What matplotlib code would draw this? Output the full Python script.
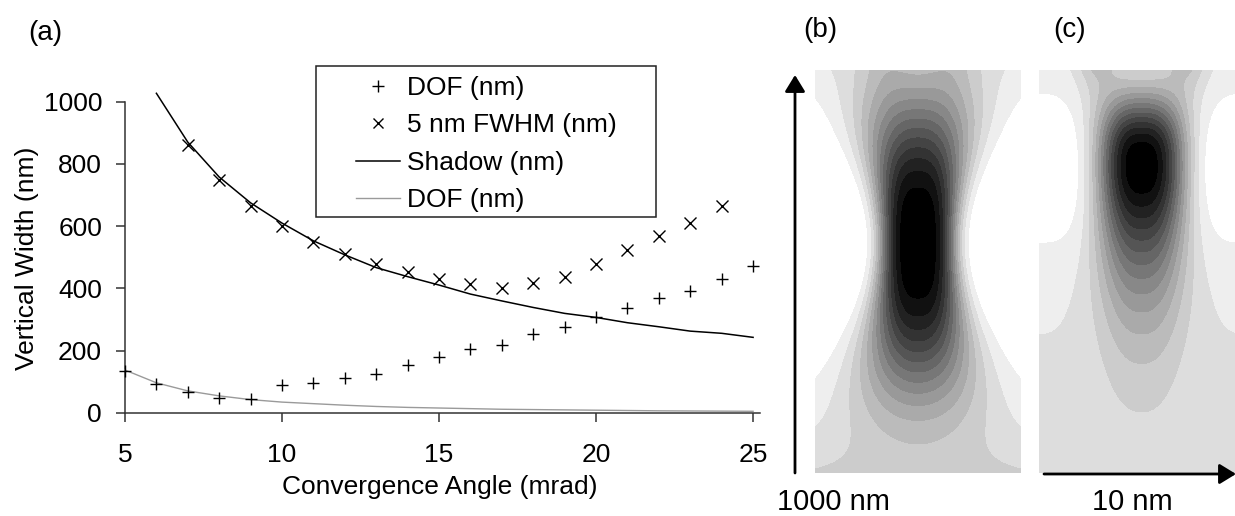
import numpy as np
import matplotlib
matplotlib.use("Agg")
import matplotlib.pyplot as plt
from matplotlib.patches import FancyArrowPatch, Rectangle

plt.rcParams['font.family'] = ['Liberation Sans', 'DejaVu Sans']
plt.rcParams['font.size'] = 19

# ---------------- data ----------------
dof_angles = [5, 6, 7, 8, 9, 10, 11, 12, 13, 14, 15, 16, 17, 18, 19, 20, 21, 22, 23, 24, 25]
dof_points = [135, 93, 68, 47, 44, 90, 97, 111, 125, 154, 181, 204, 218, 253, 277, 307, 338, 368, 392, 430, 472]

fwhm_angles = [7, 8, 9, 10, 11, 12, 13, 14, 15, 16, 17, 18, 19, 20, 21, 22, 23, 24]
fwhm_points = [860, 748, 665, 600, 549, 510, 480, 454, 429, 414, 402, 416, 438, 480, 525, 569, 611, 665]

shadow_angles = [6, 7, 8, 9, 10, 11, 12, 13, 14, 15, 16, 17, 18, 19, 20, 21, 22, 23, 24, 25]
shadow_values = [1027, 870, 758, 675, 610, 553, 508, 467, 438, 411, 382, 360, 339, 320, 307, 290, 277, 263, 256, 243]

dofline_angles = [5, 6, 7, 8, 9, 10, 11, 12, 13, 14, 15, 16, 17, 18, 19, 20, 21, 22, 23, 24, 25]
dofline_values = [138, 97, 71, 55, 43, 35, 30, 25, 21, 18, 16, 14, 12, 11, 10, 9, 8, 7, 6.5, 6, 5.5]

legend_labels = ["DOF (nm)", "5 nm FWHM (nm)", "Shadow (nm)", "DOF (nm)"]
x_ticks = [5, 10, 15, 20, 25]
y_ticks = [0, 200, 400, 600, 800, 1000]

W, H = 1235, 516
fig = plt.figure(figsize=(W / 100, H / 100), dpi=100)

def fx(px):
    return px / W

def fy(py):
    return 1 - py / H

# ---------------- panel (a) ----------------
ax = fig.add_axes([fx(125), fy(413), fx(760) - fx(125), fy(101.7) - fy(413)])
ax.set_xlim(5, 25.22)
ax.set_ylim(0, 1000)
ax.spines['top'].set_visible(False)
ax.spines['right'].set_visible(False)
for s in ['left', 'bottom']:
    ax.spines[s].set_linewidth(1.1)
    ax.spines[s].set_color('#333333')
ax.set_xticks(x_ticks)
ax.set_yticks(y_ticks)
ax.tick_params(axis='both', direction='out', length=6.5, width=1.1, color='#333333', labelsize=19)
ax.tick_params(axis='y', pad=10)
ax.tick_params(axis='x', pad=15)

h1, = ax.plot(dof_angles, dof_points, ls='none', marker='+', ms=9, mew=1.0, color='black', clip_on=False, zorder=4)
h2, = ax.plot(fwhm_angles, fwhm_points, ls='none', marker='x', ms=8, mew=1.0, color='black', clip_on=False, zorder=4)
h3, = ax.plot(shadow_angles, shadow_values, color='black', lw=1.1, clip_on=False, zorder=3)
h4, = ax.plot(dofline_angles, dofline_values, color='#9a9a9a', lw=1.0, clip_on=False, zorder=3)

fig.text(fx(27), fy(258), "Vertical Width (nm)", rotation=90, ha='center', va='center', fontsize=19)
fig.text(fx(440), fy(487), "Convergence Angle (mrad)", ha='center', va='center', fontsize=19)

# legend frame + entries
fig.add_artist(Rectangle((fx(316), fy(217)), fx(656) - fx(316), fy(66) - fy(217),
                         transform=fig.transFigure, fill=False, edgecolor='#222222', lw=1.1))
leg = fig.legend([h1, h2, h3, h4], legend_labels, loc='upper left',
                 bbox_to_anchor=(fx(356), fy(76)), bbox_transform=fig.transFigure,
                 frameon=False, borderpad=0, borderaxespad=0, handlelength=1.66,
                 handletextpad=0.28, labelspacing=0.51, fontsize=19, markerscale=0.9)

fig.text(fx(28), fy(40), "(a)", ha='left', va='baseline', fontsize=20)
fig.text(fx(803), fy(37), "(b)", ha='left', va='baseline', fontsize=20)
fig.text(fx(1053), fy(37), "(c)", ha='left', va='baseline', fontsize=20)

# ---------------- panels (b), (c): stepped grey contour maps ----------------
def beam_map(u, v, w0, k, pshape, up, dn, bg, ring=None):
    av = np.abs(v)
    n_up, v0_up, v1_up = up
    n_dn, v0_dn, v1_dn = dn
    lnA = np.where(v < 0,
                   (av / v0_up) ** n_up / (1 + av / v1_up),
                   (av / v0_dn) ** n_dn / (1 + av / v1_dn))
    A = np.exp(-lnA)
    w = np.sqrt(w0 ** 2 + (k * v) ** 2)
    p_near, p_far, vp = pshape
    p = p_far + (p_near - p_far) * np.exp(-(v / vp) ** 2)
    I = A * np.exp(-(np.abs(u) / w) ** p) + bg(v)
    if ring is not None:
        amp, vtop, r0, s = ring
        R = amp * (np.clip(-v, 0, None) / vtop) ** 3
        I = I + R * np.exp(-((np.abs(u) - r0) / s) ** 2)
    return I

def quantize(I, n=16):
    q = np.clip(np.floor(I * n), 0, n - 1)
    return 1 - q / (n - 1)

# panel (b)
ub = np.linspace(-103, 103, 206)
vb = np.linspace(-173, 230, 403)
Ub, Vb = np.meshgrid(ub, vb)
bg_b = lambda v: np.where(v < 0, 0.07 * (np.abs(v) / 173) ** 4, 0.179 * (np.clip(v, 0, None) / 230) ** 3)
Ib = beam_map(Ub, Vb, 38.4, 0.37, (3.6, 2.1, 80), (2.75, 149, np.inf), (2.65, 154, np.inf), bg_b,
              ring=(0.05, 173, 35, 22))
axb = fig.add_axes([fx(815), fy(473), fx(1021) - fx(815), fy(70) - fy(473)])
axb.imshow(quantize(Ib), cmap='gray', vmin=0, vmax=1, interpolation='nearest', aspect='auto')
axb.axis('off')

# panel (c)
uc = np.linspace(-102.7, 93.3, 196)
vc = np.linspace(-98, 305, 403)
Uc, Vc = np.meshgrid(uc, vc)
bg_c = lambda v: 0.13 * (1 - np.exp(-(np.abs(v) / 92.5) ** 2))
Ic = beam_map(Uc, Vc, 44, 0.0, (2.74, 2.4, 80), (2.6, 71, np.inf), (2.0, 85, 128.6), bg_c,
              ring=(0.15, 98, 45, 22))
axc = fig.add_axes([fx(1039), fy(473), fx(1235) - fx(1039), fy(70) - fy(473)])
axc.imshow(quantize(Ic), cmap='gray', vmin=0, vmax=1, interpolation='nearest', aspect='auto')
axc.axis('off')

# scale arrows
astyle = '-|>,head_length=0.4,head_width=0.245'
fig.add_artist(FancyArrowPatch((fx(795), fy(473)), (fx(795), fy(75)), transform=fig.transFigure,
                               arrowstyle=astyle, mutation_scale=25,
                               lw=2, color='black', shrinkA=0, shrinkB=0))
fig.add_artist(FancyArrowPatch((fx(1044), fy(474)), (fx(1236), fy(474)), transform=fig.transFigure,
                               arrowstyle=astyle, mutation_scale=25,
                               lw=2, color='black', shrinkA=0, shrinkB=0))

fig.text(fx(833), fy(510), "1000 nm", ha='center', va='baseline', fontsize=21)
fig.text(fx(1132), fy(510), "10 nm", ha='center', va='baseline', fontsize=21)

fig.savefig("out.png", dpi=100)
